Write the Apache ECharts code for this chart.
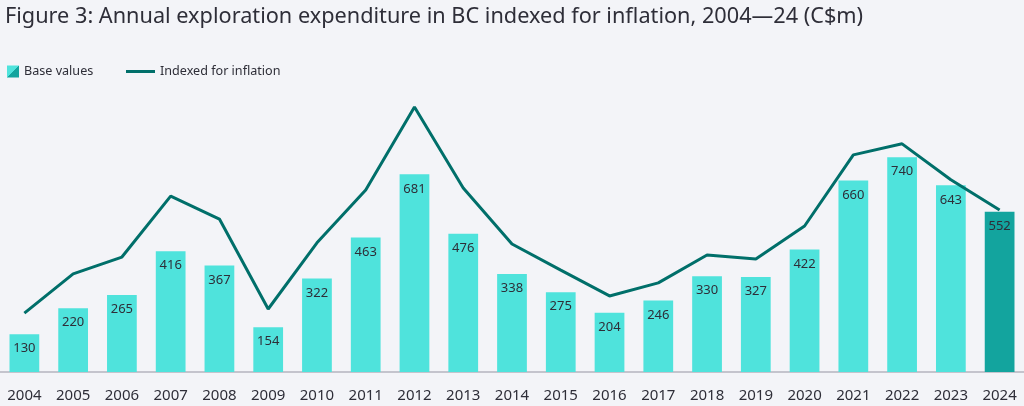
<!DOCTYPE html>
<html><head><meta charset="utf-8">
<script src="https://cdn.jsdelivr.net/npm/echarts@6/dist/echarts.min.js"></script>
<style>html,body{margin:0;padding:0;background:#f3f4f8;}#c{width:1024px;height:406px;}</style>
</head><body><div id="c"></div>
<script>
const years = ['2004','2005','2006','2007','2008','2009','2010','2011','2012','2013','2014','2015','2016','2017','2018','2019','2020','2021','2022','2023','2024'];
const baseValues = [130,220,265,416,367,154,322,463,681,476,338,275,204,246,330,327,422,660,740,643,552];
const indexedValues = [203,338,396,606,527,217,445,627,913,634,441,351,262,307,403,389,503,748,786,662,558];

const LIGHT = '#4fe3dc', DARK = '#13a49e', LINE = '#006f6a', TXT = '#2e2e38';
const chart = echarts.init(document.getElementById('c'));
const font = 'Noto Sans';
chart.setOption({
  backgroundColor: '#f3f4f8',
  animation: false,
  title: {text: 'Figure 3: Annual exploration expenditure in BC indexed for inflation, 2004\u201424 (C$m)', left: 0, top: 1,
    textStyle: {fontFamily: font, fontSize: 21.7, fontWeight: 'normal', color: TXT}},
  legend: [
    {data: [{name: 'Base values', itemStyle: {color: new echarts.graphic.LinearGradient(0,0,1,1,[{offset:0,color:LIGHT},{offset:0.5,color:LIGHT},{offset:0.5,color:DARK},{offset:1,color:DARK}])}}],
     left: 2, top: 60, icon: 'rect', itemWidth: 12, itemHeight: 12, itemGap: 6,
     textStyle: {fontFamily: font, fontSize: 12.6, color: TXT}},
    {data: [{name: 'Indexed for inflation'}], left: 121, top: 60, icon: 'rect', itemWidth: 29, itemHeight: 3, itemGap: 6,
     textStyle: {fontFamily: font, fontSize: 12.6, color: TXT}}
  ],
  grid: {left: 0, right: -3, top: 100, bottom: 34},
  xAxis: {type: 'category', data: years, axisTick: {show: false},
    axisLine: {lineStyle: {color: '#c4c4cd', width: 2}},
    axisLabel: {fontFamily: font, fontSize: 15, color: TXT, margin: 16}},
  yAxis: {type: 'value', min: 0, max: 937, show: false, splitLine: {show: false}},
  series: [
    {name: 'Base values', type: 'bar', barWidth: '61%',
     data: baseValues.map((v, i) => ({value: v, itemStyle: {color: i === baseValues.length - 1 ? DARK : LIGHT}})),
     label: {show: true, position: 'insideTop', distance: 8, fontFamily: font, fontSize: 13, color: TXT}},
    {name: 'Indexed for inflation', type: 'line', data: indexedValues, symbol: 'none',
     lineStyle: {color: LINE, width: 3}, itemStyle: {color: LINE}, z: 5}
  ]
});
</script></body></html>
